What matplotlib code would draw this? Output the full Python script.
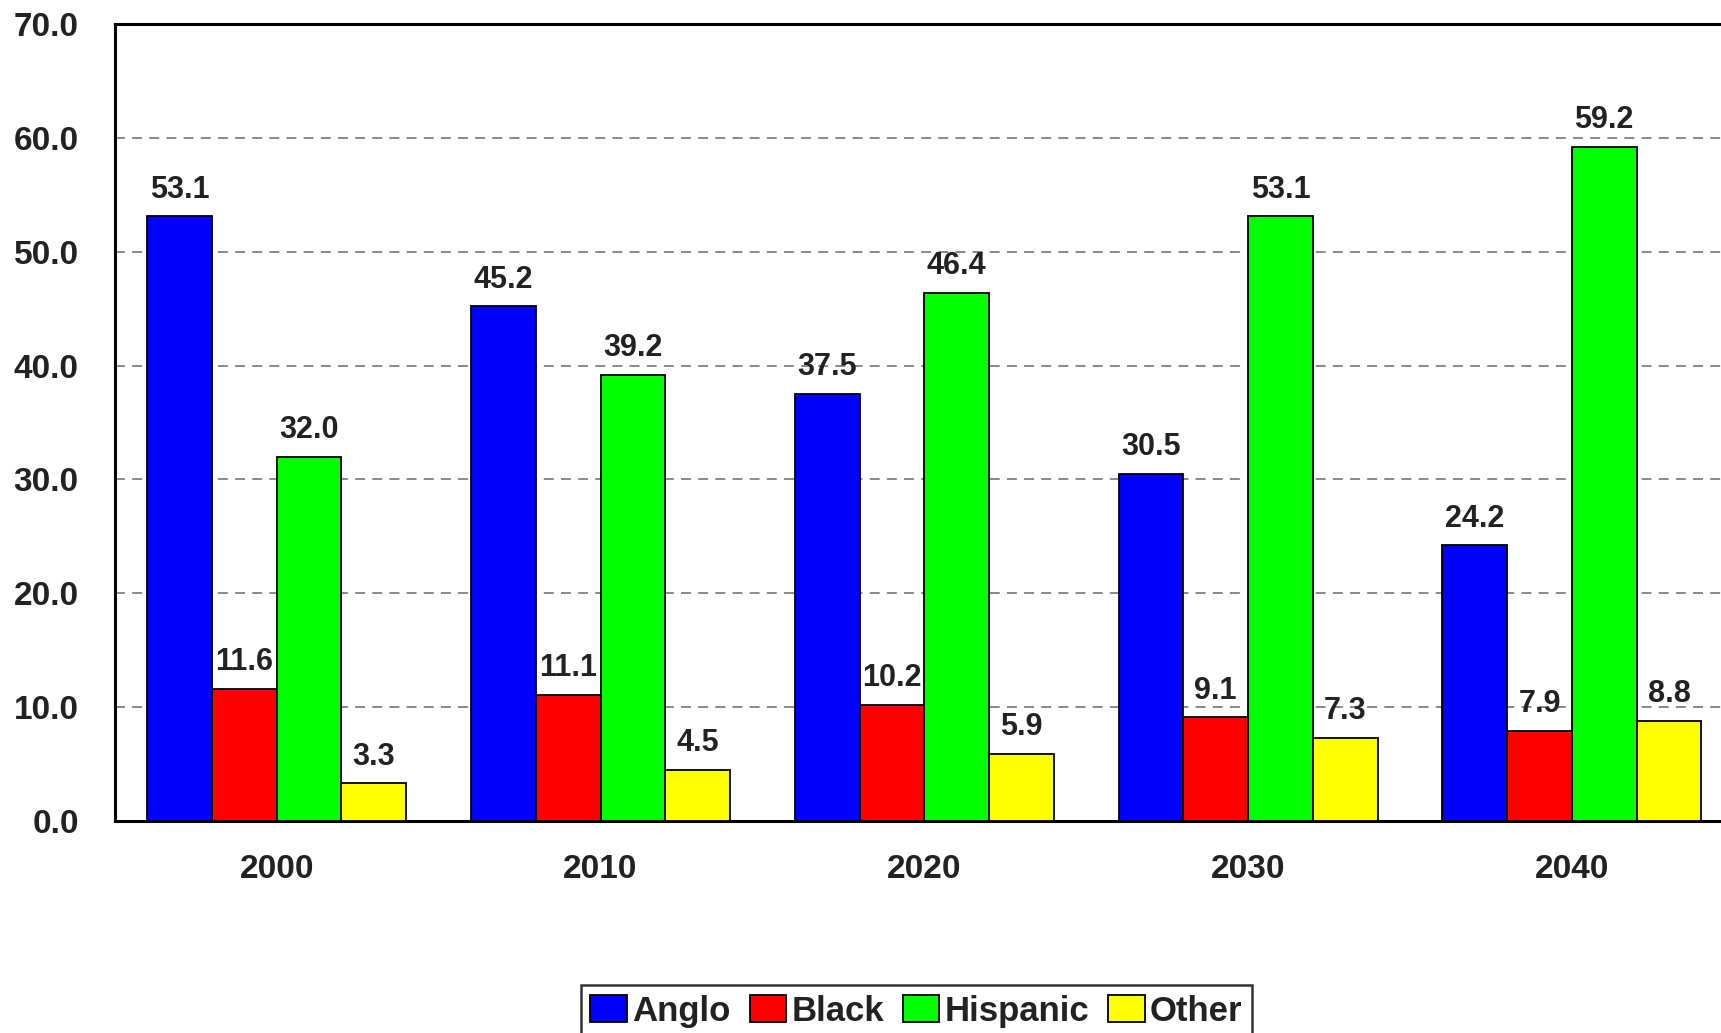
import matplotlib
matplotlib.use("Agg")
import matplotlib.pyplot as plt
import numpy as np

years = ["2000", "2010", "2020", "2030", "2040"]
series_names = ["Anglo", "Black", "Hispanic", "Other"]
anglo = [53.1, 45.2, 37.5, 30.5, 24.2]
black = [11.6, 11.1, 10.2, 9.1, 7.9]
hispanic = [32.0, 39.2, 46.4, 53.1, 59.2]
other = [3.3, 4.5, 5.9, 7.3, 8.8]
colors = ["#0000FF", "#FF0000", "#00FF00", "#FFFF00"]

plt.rcParams['font.family'] = ['Liberation Sans', 'DejaVu Sans']
txt = "#222222"

W, H = 1721, 1033
fig = plt.figure(figsize=(W / 100, H / 100), dpi=100)
left, right = 114.8, 1733.8
top, bottom = 24, 821
ax = fig.add_axes([left / W, 1 - bottom / H, (right - left) / W, (bottom - top) / H])

x = np.arange(len(years))
bw = 0.2
data = [anglo, black, hispanic, other]
for i, (vals, c, name) in enumerate(zip(data, colors, series_names)):
    pos = x - 0.3 + i * bw
    ax.bar(pos, vals, width=bw, color=c, edgecolor="black", linewidth=1.3,
           label=name, zorder=3)
    for xp, v in zip(pos, vals):
        ax.annotate(f"{v:.1f}", (xp, v), xytext=(0, 8.5), textcoords="offset points",
                    ha="center", va="bottom", fontsize=22, fontweight="bold",
                    color=txt, zorder=4)

ax.set_xlim(-0.5, 4.5)
ax.set_ylim(0, 70)
ax.set_yticks(np.arange(0, 71, 10))
ax.set_yticklabels([f"{v:.1f}" for v in np.arange(0, 71, 10)])
ax.set_xticks(x)
ax.set_xticklabels(years)
ax.tick_params(axis="both", length=0, labelsize=24, labelcolor=txt)
ax.tick_params(axis="y", pad=26)
ax.tick_params(axis="x", pad=24)
for lab in ax.get_xticklabels() + ax.get_yticklabels():
    lab.set_fontweight("bold")

for g in range(10, 70, 10):
    ax.axhline(g, color="#808080", linewidth=1.3, linestyle=(0, (5.5, 4)), zorder=1)

for s in ["left", "top", "bottom"]:
    ax.spines[s].set_linewidth(2.2)
    ax.spines[s].set_color("black")
ax.spines["right"].set_visible(False)

leg = fig.legend(loc="upper center", bbox_to_anchor=(916.5 / W, 1 - 985 / H),
                 ncol=4, frameon=True, fancybox=False, edgecolor="black",
                 prop={"size": 25, "weight": "bold"}, handlelength=1.05,
                 handleheight=0.8, handletextpad=0.15, columnspacing=0.55,
                 borderpad=0.28, borderaxespad=0)
leg.get_frame().set_linewidth(1.8)
for t in leg.get_texts():
    t.set_color(txt)

fig.savefig("out.png", dpi=100)
